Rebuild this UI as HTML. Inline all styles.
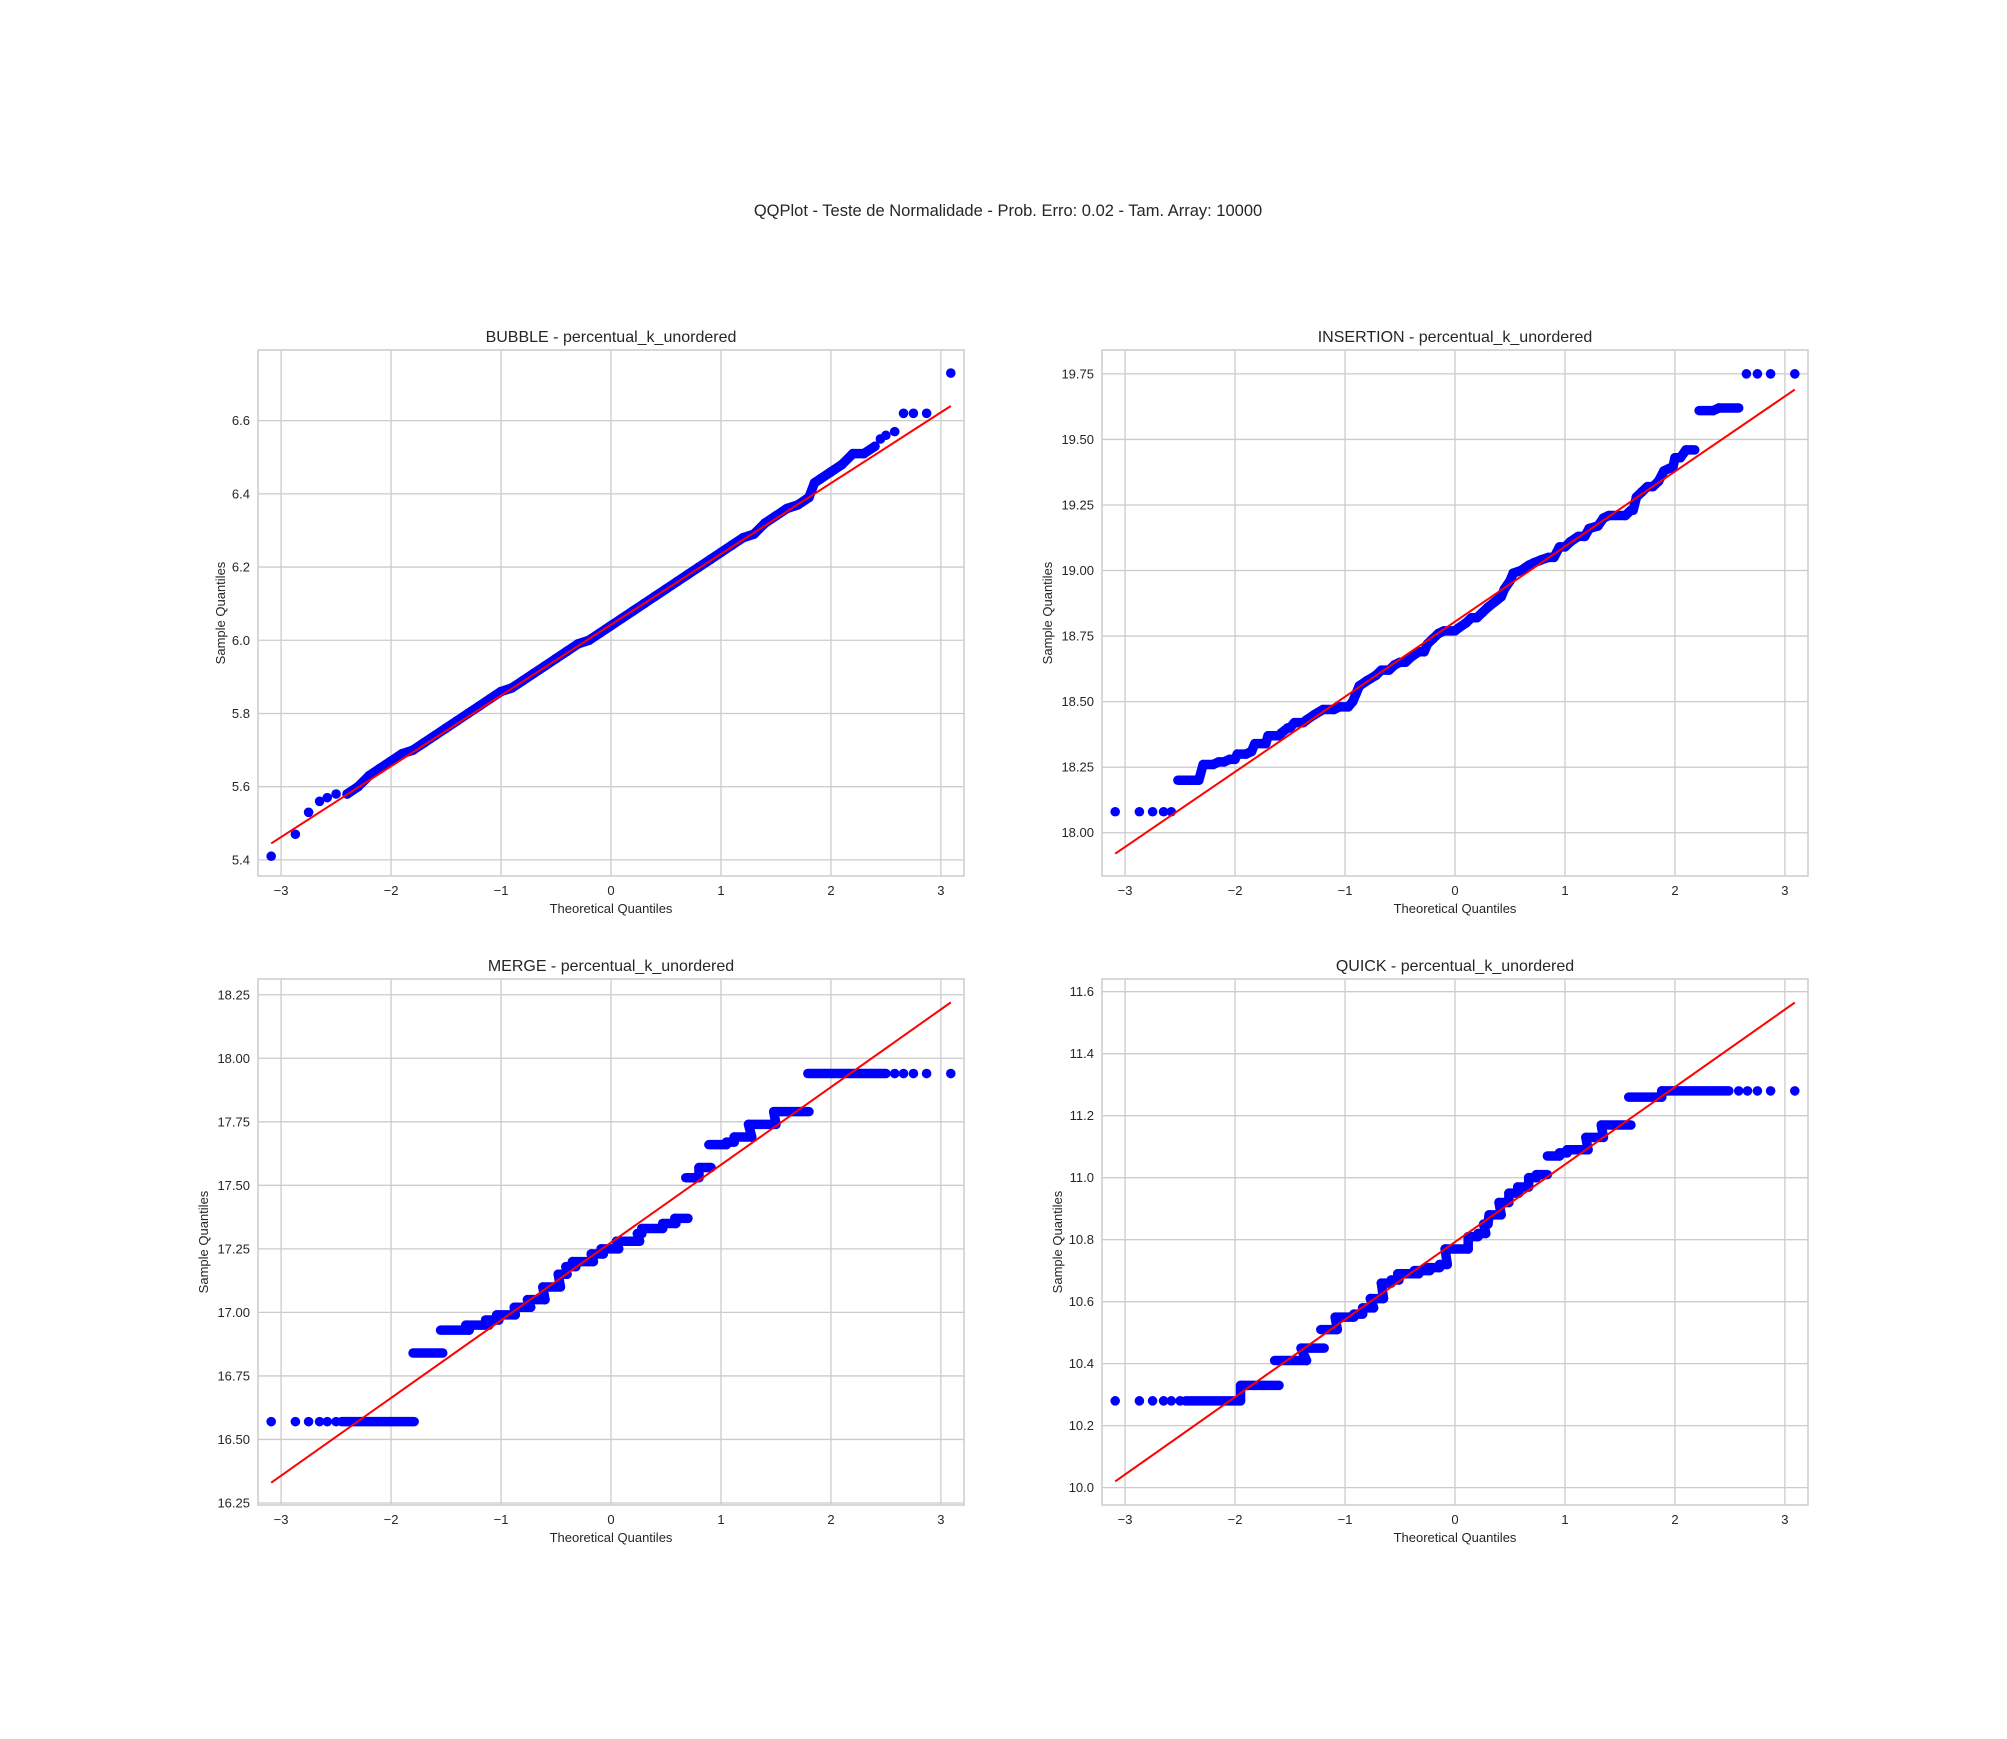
<!DOCTYPE html>
<html><head><meta charset="utf-8"><title>QQPlot</title>
<style>
html,body{margin:0;padding:0;background:#fff;}
svg{display:block;font-family:"Liberation Sans",Arial,sans-serif;}
</style></head>
<body>
<svg id="fig" width="2007" height="1739" viewBox="0 0 2007 1739" xmlns="http://www.w3.org/2000/svg">
<rect x="0" y="0" width="2007" height="1739" fill="#fff"/>
<text x="1008" y="216" font-size="16.5" text-anchor="middle" fill="#262626">QQPlot - Teste de Normalidade - Prob. Erro: 0.02 - Tam. Array: 10000</text>
</svg>
<script>
// ---- data ----
const xTicks = [-3,-2,-1,0,1,2,3];
const xLim = [-3.21, 3.21];
const lineX = [-3.09, 3.09];

const bubbleTitle = "BUBBLE - percentual_k_unordered";
const bubbleYLim = [5.356, 6.793];
const bubbleYTicks = [5.4,5.6,5.8,6.0,6.2,6.4,6.6];
const bubbleLineY = [5.445, 6.64];
const bubbleStart = [-3.09,-2.87,-2.75,-2.65,-2.58,-2.5,-2.4,-2.3,-2.2,-2.1,-2.0,-1.9,-1.8,-1.7,-1.6,-1.5,-1.4,-1.3,-1.2,-1.1,-1.0,-0.9,-0.8,-0.7,-0.6,-0.5,-0.4,-0.3,-0.2,-0.1,0.0,0.1,0.2,0.3,0.4,0.5,0.6,0.7,0.8,0.9,1.0,1.1,1.2,1.3,1.4,1.5,1.6,1.7,1.8,1.85,1.9,2.0,2.1,2.2,2.3,2.4,2.45,2.5,2.58,2.66,2.75,2.87,3.09];
const bubbleEnd = bubbleStart;
const bubbleVals = [5.41,5.47,5.53,5.56,5.57,5.58,5.58,5.60,5.63,5.65,5.67,5.69,5.70,5.72,5.74,5.76,5.78,5.80,5.82,5.84,5.86,5.87,5.89,5.91,5.93,5.95,5.97,5.99,6.00,6.02,6.04,6.06,6.08,6.10,6.12,6.14,6.16,6.18,6.20,6.22,6.24,6.26,6.28,6.29,6.32,6.34,6.36,6.37,6.39,6.43,6.44,6.46,6.48,6.51,6.51,6.53,6.55,6.56,6.57,6.62,6.62,6.62,6.73];

const insertionTitle = "INSERTION - percentual_k_unordered";
const insertionYLim = [17.835, 19.841];
const insertionYTicks = [18.00,18.25,18.50,18.75,19.00,19.25,19.50,19.75];
const insertionLineY = [17.92, 19.69];
const insertionStart = [-3.09,-2.87,-2.75,-2.65,-2.58,-2.52,-2.29,-2.15,-2.05,-1.98,-1.85,-1.82,-1.7,-1.58,-1.52,-1.46,-1.35,-1.28,-1.2,-1.05,-0.93,-0.9,-0.87,-0.8,-0.72,-0.67,-0.55,-0.5,-0.4,-0.33,-0.25,-0.2,-0.15,-0.1,0.03,0.1,0.15,0.25,0.3,0.36,0.42,0.45,0.5,0.53,0.6,0.67,0.72,0.78,0.85,0.95,1.05,1.12,1.22,1.3,1.35,1.4,1.6,1.65,1.7,1.75,1.85,1.9,1.95,2.0,2.1,2.22,2.4,2.65,2.75,2.87,3.09];
const insertionEnd   = [-3.09,-2.87,-2.75,-2.65,-2.58,-2.33,-2.2,-2.1,-2.0,-1.9,-1.85,-1.72,-1.6,-1.58,-1.5,-1.38,-1.35,-1.28,-1.1,-0.97,-0.93,-0.9,-0.87,-0.8,-0.72,-0.6,-0.55,-0.45,-0.4,-0.28,-0.25,-0.2,-0.15,0.0,0.03,0.1,0.2,0.25,0.3,0.36,0.42,0.45,0.5,0.53,0.6,0.67,0.72,0.78,0.9,1.0,1.05,1.18,1.22,1.3,1.35,1.55,1.62,1.65,1.7,1.8,1.85,1.9,1.98,2.05,2.18,2.35,2.58,2.65,2.75,2.87,3.09];
const insertionVals  = [18.08,18.08,18.08,18.08,18.08,18.20,18.26,18.27,18.28,18.30,18.31,18.34,18.37,18.38,18.40,18.42,18.43,18.45,18.47,18.48,18.50,18.53,18.56,18.58,18.60,18.62,18.64,18.65,18.67,18.69,18.72,18.74,18.76,18.77,18.78,18.80,18.82,18.84,18.86,18.88,18.90,18.93,18.96,18.99,19.00,19.02,19.03,19.04,19.05,19.09,19.11,19.13,19.16,19.17,19.20,19.21,19.23,19.28,19.30,19.32,19.34,19.38,19.39,19.43,19.46,19.61,19.62,19.75,19.75,19.75,19.75];

const mergeTitle = "MERGE - percentual_k_unordered";
const mergeYLim = [16.242, 18.312];
const mergeYTicks = [16.25,16.50,16.75,17.00,17.25,17.50,17.75,18.00,18.25];
const mergeLineY = [16.33, 18.22];
const mergeStart = [-3.09,-2.87,-2.75,-2.65,-2.58,-2.5,-2.45,-1.80,-1.55,-1.32,-1.14,-1.04,-0.88,-0.76,-0.62,-0.48,-0.41,-0.35,-0.18,-0.09,0.05,0.24,0.28,0.47,0.58,0.68,0.80,0.89,1.05,1.12,1.25,1.48,1.79,2.58,2.66,2.75,2.87,3.09];
const mergeEnd   = [-3.09,-2.87,-2.75,-2.65,-2.58,-2.5,-1.79,-1.53,-1.29,-1.11,-1.02,-0.87,-0.73,-0.60,-0.46,-0.40,-0.32,-0.16,-0.07,0.07,0.26,0.28,0.47,0.59,0.70,0.80,0.91,1.05,1.12,1.28,1.50,1.80,2.50,2.58,2.66,2.75,2.87,3.09];
const mergeVals  = [16.57,16.57,16.57,16.57,16.57,16.57,16.57,16.84,16.93,16.95,16.97,16.99,17.02,17.05,17.10,17.15,17.18,17.20,17.23,17.25,17.28,17.31,17.33,17.35,17.37,17.53,17.57,17.66,17.67,17.69,17.74,17.79,17.94,17.94,17.94,17.94,17.94,17.94];

const quickTitle = "QUICK - percentual_k_unordered";
const quickYLim = [9.944, 11.641];
const quickYTicks = [10.0,10.2,10.4,10.6,10.8,11.0,11.2,11.4,11.6];
const quickLineY = [10.02, 11.565];
const quickStart = [-3.09,-2.87,-2.75,-2.65,-2.58,-2.5,-2.45,-1.95,-1.64,-1.40,-1.22,-1.09,-0.92,-0.84,-0.77,-0.67,-0.58,-0.52,-0.37,-0.26,-0.14,-0.09,0.12,0.21,0.26,0.31,0.40,0.49,0.57,0.67,0.74,0.84,0.95,1.02,1.19,1.33,1.58,1.88,2.58,2.66,2.75,2.87,3.09];
const quickEnd   = [-3.09,-2.87,-2.75,-2.65,-2.58,-2.5,-1.95,-1.60,-1.35,-1.19,-1.07,-0.92,-0.84,-0.74,-0.65,-0.58,-0.51,-0.33,-0.23,-0.14,-0.07,0.12,0.21,0.28,0.30,0.42,0.49,0.58,0.67,0.74,0.84,0.95,1.02,1.21,1.35,1.60,1.88,2.49,2.58,2.66,2.75,2.87,3.09];
const quickVals  = [10.28,10.28,10.28,10.28,10.28,10.28,10.28,10.33,10.41,10.45,10.51,10.55,10.56,10.58,10.61,10.66,10.67,10.69,10.70,10.71,10.72,10.77,10.81,10.82,10.85,10.88,10.92,10.95,10.97,11.00,11.01,11.07,11.08,11.09,11.13,11.17,11.26,11.28,11.28,11.28,11.28,11.28,11.28];

// ---- rendering ----
const NS = "http://www.w3.org/2000/svg";
const svg = document.getElementById("fig");
function mk(tag, attrs, parent){
  const e = document.createElementNS(NS, tag);
  for (const k in attrs) e.setAttribute(k, attrs[k]);
  (parent||svg).appendChild(e);
  return e;
}
function fmt(v, d){ const s = v.toFixed(d); return s.replace("-", "\u2212"); }

function panel(key, title, box, yLim, yTicks, yDec, lineY, starts, ends, vals, ylabOff){
  const g = mk("g", {});
  
  
  const L = box.x, T = box.y, W = box.w, H = box.h;
  const sx = v => L + (v - xLim[0]) / (xLim[1] - xLim[0]) * W;
  const sy = v => T + H - (v - yLim[0]) / (yLim[1] - yLim[0]) * H;
  xTicks.forEach(t => {
    const ln = mk("line", {x1:sx(t), x2:sx(t), y1:T, y2:T+H, stroke:"#cccccc", "stroke-width":1.3}, g);
    
    
    const tx = mk("text", {x:sx(t), y:T+H+19, "font-size":13, "text-anchor":"middle", fill:"#262626"}, g);
    tx.textContent = fmt(t, 0);
    
    
  });
  yTicks.forEach(t => {
    const ln = mk("line", {x1:L, x2:L+W, y1:sy(t), y2:sy(t), stroke:"#cccccc", "stroke-width":1.3}, g);
    
    
    const tx = mk("text", {x:L-8, y:sy(t)+4.5, "font-size":13, "text-anchor":"end", fill:"#262626"}, g);
    tx.textContent = fmt(t, yDec);
    
    
  });
  const fr = mk("rect", {x:L, y:T, width:W, height:H, fill:"none", stroke:"#cccccc", "stroke-width":1.5}, g);
  
  
  const pts = mk("g", {fill:"#0000ff", stroke:"#0000ff"}, g);
  
  
  for (let i = 0; i < vals.length; i++){
    const x1 = sx(starts[i]), x2 = sx(ends[i]), y = sy(vals[i]);
    if (i > 0){
      const px = ends[i-1], py = sy(vals[i-1]);
      const dxu = starts[i] - px;
      if (dxu <= 0.1001 && Math.abs(px) < 2.45 && Math.abs(starts[i]) < 2.45 && Math.abs(y - py) < 16){
        const lk = mk("line", {x1:sx(px), y1:py, x2:x1, y2:y, "stroke-width":9.5, "stroke-linecap":"round"}, pts);
        
        
      }
    }
    if (x2 - x1 > 0.5){
      const r = mk("line", {x1:x1, y1:y, x2:x2, y2:y, "stroke-width":9.5, "stroke-linecap":"round"}, pts);
      
      
    } else {
      const c = mk("circle", {cx:x1, cy:y, r:4.8, "stroke-width":0}, pts);
      
      
    }
  }
  const rl = mk("line", {x1:sx(lineX[0]), y1:sy(lineY[0]), x2:sx(lineX[1]), y2:sy(lineY[1]), stroke:"#ff0000", "stroke-width":2}, g);
  
  
  const tt = mk("text", {x:L+W/2, y:T-8, "font-size":16, "text-anchor":"middle", fill:"#262626"}, g);
  tt.textContent = title;
  
  
  const xl = mk("text", {x:L+W/2, y:T+H+37, "font-size":13, "text-anchor":"middle", fill:"#262626"}, g);
  xl.textContent = "Theoretical Quantiles";
  
  
  const yx = L - ylabOff, yy = T + H/2;
  const yl = mk("text", {x:yx, y:yy, "font-size":13, "text-anchor":"middle", fill:"#262626", transform:"rotate(-90 "+yx+" "+yy+")"}, g);
  yl.textContent = "Sample Quantiles";
  
  
}

const W = 706, H = 526;
panel("bubble", bubbleTitle, {x:258, y:350, w:W, h:H}, bubbleYLim, bubbleYTicks, 1, bubbleLineY, bubbleStart, bubbleEnd, bubbleVals, 33);
panel("insertion", insertionTitle, {x:1102, y:350, w:W, h:H}, insertionYLim, insertionYTicks, 2, insertionLineY, insertionStart, insertionEnd, insertionVals, 50);
panel("merge", mergeTitle, {x:258, y:979, w:W, h:H}, mergeYLim, mergeYTicks, 2, mergeLineY, mergeStart, mergeEnd, mergeVals, 50);
panel("quick", quickTitle, {x:1102, y:979, w:W, h:H}, quickYLim, quickYTicks, 1, quickLineY, quickStart, quickEnd, quickVals, 40);
</script>
</body></html>
